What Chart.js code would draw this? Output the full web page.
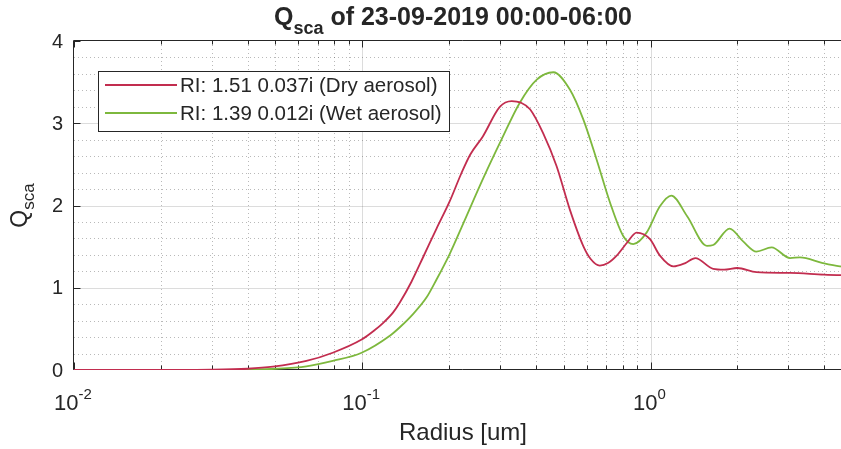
<!DOCTYPE html>
<html>
<head>
<meta charset="utf-8">
<script src="https://cdn.jsdelivr.net/npm/chart.js@4.4.0/dist/chart.umd.min.js"></script>
<style>
  html, body { margin: 0; padding: 0; background: #fff; overflow: hidden; }
  #wrap { width: 860px; height: 449px; }
</style>
</head>
<body>
<div id="wrap"><canvas id="qsca" width="860" height="449"></canvas></div>
<script>
// Dry aerosol, RI 1.51 + 0.037i
const dryRadius = [0.01, 0.02, 0.03, 0.04, 0.049, 0.064, 0.079, 0.0995, 0.11, 0.118, 0.128, 0.135, 0.148, 0.163, 0.181, 0.201, 0.22, 0.237, 0.262, 0.30, 0.33, 0.355, 0.382, 0.424, 0.472, 0.525, 0.584, 0.62, 0.667, 0.712, 0.763, 0.83, 0.895, 0.996, 1.078, 1.20, 1.32, 1.43, 1.65, 1.8, 2.0, 2.33, 3.05, 4.0, 5.0];
const dryQsca   = [0, 0, 0.003, 0.015, 0.04, 0.11, 0.21, 0.37, 0.48, 0.57, 0.70, 0.82, 1.07, 1.38, 1.72, 2.05, 2.38, 2.62, 2.84, 3.2, 3.27, 3.25, 3.17, 2.88, 2.48, 1.95, 1.51, 1.35, 1.27, 1.3, 1.39, 1.55, 1.67, 1.59, 1.39, 1.26, 1.3, 1.36, 1.23, 1.22, 1.24, 1.19, 1.18, 1.16, 1.15];

// Wet aerosol, RI 1.39 + 0.012i
const wetRadius = [0.01, 0.02, 0.03, 0.04, 0.05, 0.064, 0.079, 0.0995, 0.125, 0.135, 0.15, 0.167, 0.181, 0.201, 0.224, 0.262, 0.304, 0.352, 0.403, 0.46, 0.525, 0.584, 0.65, 0.723, 0.804, 0.871, 0.969, 1.078, 1.18, 1.34, 1.57, 1.65, 1.88, 2.1, 2.33, 2.63, 3.05, 3.3, 3.96, 4.54, 5.0];
const wetQsca   = [0, 0, 0, 0.005, 0.015, 0.045, 0.11, 0.21, 0.42, 0.52, 0.68, 0.88, 1.10, 1.41, 1.78, 2.32, 2.8, 3.25, 3.53, 3.62, 3.41, 3.05, 2.56, 2.04, 1.63, 1.53, 1.67, 1.99, 2.12, 1.87, 1.51, 1.52, 1.72, 1.56, 1.44, 1.49, 1.36, 1.37, 1.30, 1.26, 1.25];

const seriesLabels = ['RI: 1.51 0.037i (Dry aerosol)', 'RI: 1.39 0.012i (Wet aerosol)'];
const seriesColors = ['#c22d4f', '#7db83d'];

const xRange = [0.01, 5];
const xDecades = [0.01, 0.1, 1];
const xExponents = ['-2', '-1', '0'];
const yTicks = [0, 1, 2, 3, 4];

const INK = '#262626';
const FONT = '"Liberation Sans", Arial, Helvetica, sans-serif';

function toPoints(xs, ys) {
  return xs.map((r, i) => ({ x: r, y: ys[i] }));
}

// 2..9 within each decade, for minor grid and minor ticks
function minorXValues() {
  const out = [];
  for (const d of xDecades) {
    for (let k = 2; k <= 9; k++) {
      const v = d * k;
      if (v < xRange[1]) out.push(v);
    }
  }
  return out;
}

function crisp(v) { return Math.round(v) + 0.5; }

// text with a sub- or superscript piece, laid out left to right
function drawRuns(ctx, runs, x, y) {
  let cx = x;
  for (const r of runs) {
    ctx.font = r.font;
    ctx.fillText(r.text, cx, y + (r.dy || 0));
    cx += ctx.measureText(r.text).width;
  }
}
function runsWidth(ctx, runs) {
  let w = 0;
  for (const r of runs) { ctx.font = r.font; w += ctx.measureText(r.text).width; }
  return w;
}

const matlabAxes = {
  id: 'matlabAxes',
  beforeDatasetsDraw(chart) {
    const { ctx, chartArea: a, scales: { x, y } } = chart;
    ctx.save();
    ctx.lineWidth = 1;

    // minor grid, dotted
    ctx.strokeStyle = 'rgba(38,38,38,0.32)';
    ctx.setLineDash([1, 3]);
    ctx.beginPath();
    for (const v of minorXValues()) {
      const px = crisp(x.getPixelForValue(v));
      ctx.moveTo(px, a.top); ctx.lineTo(px, a.bottom);
    }
    for (let i = 0; i < yTicks.length - 1; i++) {
      for (let k = 1; k <= 4; k++) {
        const py = crisp(y.getPixelForValue(yTicks[i] + k * 0.2));
        ctx.moveTo(a.left, py); ctx.lineTo(a.right, py);
      }
    }
    ctx.stroke();

    // major grid, solid
    ctx.setLineDash([]);
    ctx.strokeStyle = 'rgba(38,38,38,0.16)';
    ctx.beginPath();
    for (const v of xDecades.slice(1)) {
      const px = crisp(x.getPixelForValue(v));
      ctx.moveTo(px, a.top); ctx.lineTo(px, a.bottom);
    }
    for (const v of yTicks.slice(1, -1)) {
      const py = crisp(y.getPixelForValue(v));
      ctx.moveTo(a.left, py); ctx.lineTo(a.right, py);
    }
    ctx.stroke();

    // axes box (left, top, bottom)
    ctx.strokeStyle = INK;
    ctx.beginPath();
    const L = crisp(a.left) - 1, T = crisp(a.top) - 1, B = crisp(a.bottom) - 1;
    ctx.moveTo(L, T); ctx.lineTo(a.right, T);
    ctx.moveTo(L, T); ctx.lineTo(L, B);
    ctx.moveTo(L, B); ctx.lineTo(a.right, B);

    // inward ticks
    for (const v of xDecades) {
      const px = crisp(x.getPixelForValue(v));
      ctx.moveTo(px, B); ctx.lineTo(px, B - 7);
      ctx.moveTo(px, T); ctx.lineTo(px, T + 7);
    }
    for (const v of minorXValues()) {
      const px = crisp(x.getPixelForValue(v));
      ctx.moveTo(px, B); ctx.lineTo(px, B - 4);
      ctx.moveTo(px, T); ctx.lineTo(px, T + 4);
    }
    for (const v of yTicks) {
      const py = crisp(y.getPixelForValue(v)) - (v === 0 ? 1 : 0);
      ctx.moveTo(L, py); ctx.lineTo(L + 7, py);
    }
    ctx.stroke();
    ctx.restore();
  },
  afterDatasetsDraw(chart) {
    const { ctx, chartArea: a, scales: { x, y } } = chart;
    ctx.save();
    ctx.fillStyle = INK;

    // y tick labels
    ctx.font = '20px ' + FONT;
    ctx.textAlign = 'right';
    ctx.textBaseline = 'middle';
    for (const v of yTicks) {
      ctx.fillText(String(v), 63, y.getPixelForValue(v) + 1);
    }

    // x tick labels, 10 with exponent
    ctx.textAlign = 'left';
    ctx.textBaseline = 'alphabetic';
    xDecades.forEach((v, i) => {
      const runs = [
        { text: '10', font: '22px ' + FONT },
        { text: xExponents[i], font: '15px ' + FONT, dy: -11 }
      ];
      const w = runsWidth(ctx, runs);
      drawRuns(ctx, runs, x.getPixelForValue(v) - w / 2 - 1, 410);
    });

    // x axis title
    ctx.font = '24px ' + FONT;
    ctx.textAlign = 'center';
    ctx.fillText('Radius [um]', (a.left + a.right) / 2, 440);

    // y axis title, rotated
    ctx.save();
    ctx.translate(27, (a.top + a.bottom) / 2);
    ctx.rotate(-Math.PI / 2);
    ctx.textAlign = 'left';
    const yRuns = [
      { text: 'Q', font: '23px ' + FONT },
      { text: 'sca', font: '17px ' + FONT, dy: 7 }
    ];
    drawRuns(ctx, yRuns, -runsWidth(ctx, yRuns) / 2, 0);
    ctx.restore();

    // title
    ctx.textAlign = 'left';
    const tRuns = [
      { text: 'Q', font: 'bold 25px ' + FONT },
      { text: 'sca', font: 'bold 18px ' + FONT, dy: 9 },
      { text: ' of 23-09-2019 00:00-06:00', font: 'bold 25px ' + FONT }
    ];
    drawRuns(ctx, tRuns, 453 - runsWidth(ctx, tRuns) / 2, 25);

    // legend box
    const bx = 98.5, by = 71.5, bw = 351, bh = 60;
    ctx.fillStyle = '#fff';
    ctx.fillRect(bx, by, bw, bh);
    ctx.strokeStyle = INK;
    ctx.lineWidth = 1;
    ctx.strokeRect(bx, by, bw, bh);
    ctx.font = '20.5px ' + FONT;
    ctx.textBaseline = 'middle';
    chart.data.datasets.forEach((ds, i) => {
      const ly = 85 + i * 28;
      ctx.strokeStyle = ds.borderColor;
      ctx.lineWidth = 1.8;
      ctx.beginPath();
      ctx.moveTo(105, ly); ctx.lineTo(177, ly);
      ctx.stroke();
      ctx.fillStyle = INK;
      ctx.fillText(ds.label, 180, ly + 1);
    });
    ctx.restore();
  }
};

new Chart(document.getElementById('qsca'), {
  type: 'line',
  data: {
    datasets: [
      {
        label: seriesLabels[0],
        data: toPoints(dryRadius, dryQsca),
        borderColor: seriesColors[0],
        borderWidth: 1.8,
        pointRadius: 0,
        cubicInterpolationMode: 'monotone'
      },
      {
        label: seriesLabels[1],
        data: toPoints(wetRadius, wetQsca),
        borderColor: seriesColors[1],
        borderWidth: 1.8,
        pointRadius: 0,
        cubicInterpolationMode: 'monotone'
      }
    ]
  },
  options: {
    responsive: false,
    animation: false,
    layout: { padding: { left: 74, right: 8, top: 41, bottom: 79 } },
    plugins: {
      legend: { display: false },
      tooltip: { enabled: false }
    },
    scales: {
      x: { type: 'logarithmic', min: xRange[0], max: xRange[1], display: false },
      y: { type: 'linear', min: yTicks[0], max: yTicks[yTicks.length - 1], display: false }
    }
  },
  plugins: [matlabAxes]
});
</script>
</body>
</html>
